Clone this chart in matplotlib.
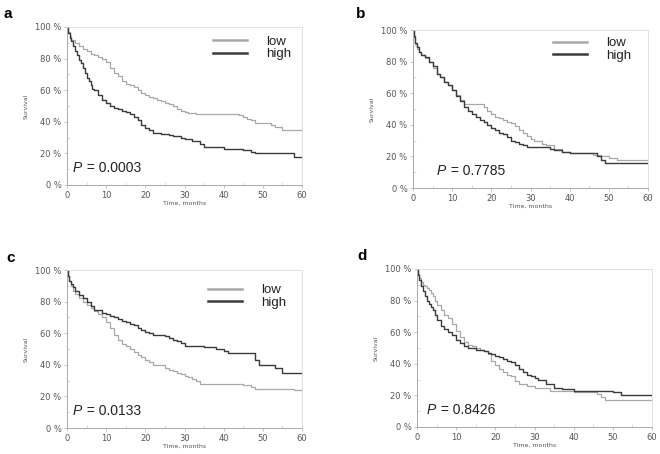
import matplotlib
matplotlib.use("Agg")
import matplotlib.pyplot as plt
from matplotlib.ticker import MultipleLocator, FuncFormatter

# ---- data (time in months, survival in %) ----
a_low_t = [0, 0.3, 0.7, 1, 2, 3, 4, 5, 6, 7, 8, 9, 10, 11, 12, 13, 14, 15, 16, 17, 18, 19, 20, 21, 22, 23, 24, 25, 26, 27, 28, 29, 30, 31, 33, 36, 40, 43, 44, 45, 46, 47, 48, 50, 52, 53, 55, 60]
a_low_s = [100, 97, 94, 92, 90, 88, 86, 85, 83, 82, 81, 80, 78, 74, 71, 69, 66, 64, 63, 62, 60, 58, 57, 56, 55, 54, 53, 52, 51, 50, 48, 47, 46, 45.5, 45, 45, 45, 45, 44, 43, 42, 41, 39, 39, 38, 37, 34.5, 34.5]
a_high_t = [0, 0.3, 0.7, 1, 1.5, 2, 2.5, 3, 3.5, 4, 4.5, 5, 5.5, 6, 6.5, 7, 8, 9, 10, 11, 12, 13, 14, 15, 16, 17, 18, 19, 20, 21, 22, 24, 26, 27, 29, 30, 32, 34, 35, 38, 40, 45, 47, 48, 55, 58, 60]
a_high_s = [100, 96, 93, 91, 88, 85, 82, 79, 77, 74, 71, 68, 66, 63, 61, 60, 57, 54, 52, 50, 49, 48, 47, 46, 45, 43, 41, 38, 36, 35, 33, 32, 31.5, 31, 30, 29, 28, 26, 24, 24, 23, 22, 21, 20, 20, 18, 18]

b_low_t = [0, 0.3, 0.6, 1, 1.5, 2, 3, 4, 5, 6, 7, 8, 9, 10, 11, 12, 13, 17, 18, 19, 20, 21, 22, 23, 24, 25, 26, 27, 28, 29, 30, 31, 33, 34, 36, 38, 40, 44, 46, 47, 48, 50, 52, 60]
b_low_s = [100, 95, 91, 88, 86, 84, 82, 80, 76, 72, 70, 67, 65, 62, 59, 56, 53, 53, 51, 49, 47, 45, 44, 43, 42, 41, 39, 37, 35, 33, 31, 30, 28, 27, 25, 23, 22, 22, 21, 21, 20, 19, 18, 18]
b_high_t = [0, 0.3, 0.6, 1, 1.5, 2, 3, 4, 5, 6, 7, 8, 9, 10, 11, 12, 13, 14, 15, 16, 17, 18, 19, 20, 21, 22, 23, 24, 25, 26, 27, 28, 29, 30, 35, 36, 38, 40, 46, 47, 48, 49, 60]
b_high_s = [100, 96, 92, 89, 86, 84, 83, 80, 77, 72, 70, 67, 65, 62, 58, 55, 51, 49, 47, 45, 43, 42, 40, 38, 37, 35, 34, 32, 30, 29, 28, 27, 26, 26, 25, 24, 23, 22, 22, 20, 18, 16, 16]

c_low_t = [0, 0.3, 0.6, 1, 1.5, 2, 3, 4, 5, 6, 7, 8, 9, 10, 11, 12, 13, 14, 15, 16, 17, 18, 19, 20, 21, 22, 24, 25, 26, 27, 28, 29, 30, 31, 32, 33, 34, 40, 44, 45, 46, 47, 48, 55, 58, 60]
c_low_s = [100, 96, 93, 90, 87, 85, 82, 80, 78, 76, 74, 72, 70, 67, 63, 59, 56, 53, 52, 50, 48, 46, 45, 43, 42, 40, 40, 38, 37, 36, 35, 34, 33, 32, 31, 30, 28, 28, 28, 27, 27, 26, 25, 25, 24, 23.5]
c_high_t = [0, 0.3, 0.6, 1, 1.5, 2, 3, 4, 5, 6, 7, 8, 9, 10, 11, 12, 13, 14, 15, 16, 17, 18, 19, 20, 21, 22, 25, 26, 27, 28, 29, 30, 34, 35, 38, 40, 41, 47, 48, 49, 51, 53, 55, 60]
c_high_s = [100, 96, 93, 91, 89, 87, 84, 82, 80, 77, 75, 75, 73, 72, 71, 70, 69, 68, 67, 66, 65, 63, 62, 61, 60, 59, 58, 57, 56, 55, 54, 52, 52, 51, 50, 49, 47.5, 47.5, 43, 40, 40, 38, 35, 35]

d_low_t = [0, 0.3, 0.6, 1, 1.5, 2, 2.5, 3, 3.5, 4, 4.5, 5, 6, 7, 8, 9, 10, 11, 12, 13, 14, 15, 16, 17, 18, 19, 20, 21, 22, 23, 24, 25, 26, 28, 30, 34, 40, 46, 47, 48, 60]
d_low_s = [100, 97, 94, 92, 90, 89, 88, 87, 85, 83, 80, 77, 74, 71, 69, 65, 61, 57, 54, 52, 51, 50, 49, 48, 46, 42, 39, 37, 35, 33, 32, 29, 27, 26, 25, 23, 22, 21, 19, 17, 17]
d_high_t = [0, 0.3, 0.6, 1, 1.5, 2, 2.5, 3, 3.5, 4, 4.5, 5, 6, 7, 8, 9, 10, 11, 12, 13, 15, 17, 18, 19, 20, 21, 22, 23, 24, 25, 26, 27, 28, 29, 30, 31, 33, 35, 37, 40, 48, 50, 52, 60]
d_high_s = [100, 96, 93, 89, 86, 83, 80, 78, 76, 74, 71, 68, 64, 62, 60, 58, 55, 53, 51, 50, 49, 48, 47, 46, 45, 44, 43, 42, 41, 39, 37, 35, 33, 32, 31, 30, 27, 25, 24, 23, 23, 22, 20, 20]

p_values = ["0.0003", "0.7785", "0.0133", "0.8426"]
panel_letters = ["a", "b", "c", "d"]
series_labels = ["low", "high"]
x_ticks = [0, 10, 20, 30, 40, 50, 60]
y_ticks = [0, 20, 40, 60, 80, 100]

panels = [
    (a_low_t, a_low_s, a_high_t, a_high_s),
    (b_low_t, b_low_s, b_high_t, b_high_s),
    (c_low_t, c_low_s, c_high_t, c_high_s),
    (d_low_t, d_low_s, d_high_t, d_high_s),
]

W, H = 660, 454
fig = plt.figure(figsize=(W / 100, H / 100), dpi=100)

# axes boxes in pixels: (left, top, right, bottom)
boxes = [(67, 27, 302, 185), (413, 30, 648, 188), (67, 270, 302, 428), (417, 269, 652, 427)]
letter_pos = [(4, 14), (356, 14), (6, 258), (357, 256)]
legend_anchor = [(0.62, 0.945), (0.596, 0.955), (0.60, 0.91), None]
p_xpos = [0.025, 0.1, 0.025, 0.04]

LOW_C = "#a8a8a8"
HIGH_C = "#3a3a3a"
TICK_C = "#555555"

for i, (lt, ls, ht, hs) in enumerate(panels):
    l, t, r, b = boxes[i]
    ax = fig.add_axes([l / W, 1 - b / H, (r - l) / W, (b - t) / H])
    ax.step(lt, ls, where="post", color=LOW_C, lw=0.9, label=series_labels[0])
    ax.step(ht, hs, where="post", color=HIGH_C, lw=1.0, label=series_labels[1])
    ax.set_xlim(0, 60)
    ax.set_ylim(0, 100)
    ax.set_xticks(x_ticks)
    ax.set_yticks(y_ticks)
    ax.xaxis.set_minor_locator(MultipleLocator(5))
    ax.yaxis.set_minor_locator(MultipleLocator(10))
    ax.yaxis.set_major_formatter(FuncFormatter(lambda v, p: f"{int(v)} %"))
    ax.tick_params(axis="both", which="major", labelsize=6, colors="#bbbbbb",
                   labelcolor=TICK_C, length=2.5, width=0.6, pad=1.5)
    ax.tick_params(axis="both", which="minor", colors="#cccccc", length=2, width=0.5,
                   direction="in")
    for side in ["top", "right"]:
        ax.spines[side].set_color("#dddddd")
        ax.spines[side].set_linewidth(0.6)
    for side in ["left", "bottom"]:
        ax.spines[side].set_color("#aaaaaa")
        ax.spines[side].set_linewidth(0.7)
    ax.set_ylabel("Survival", fontsize=4.5, color=TICK_C, labelpad=5)
    ax.set_xlabel("Time, months", fontsize=4.5, color=TICK_C, labelpad=1)
    xp = p_xpos[i]
    ax.text(xp, 0.11, "P", fontstyle="italic", fontsize=10, color="#222222",
            transform=ax.transAxes, va="center", ha="left", family="Liberation Sans")
    ax.text(xp + 0.045, 0.11, " = " + p_values[i], fontsize=10, color="#222222",
            transform=ax.transAxes, va="center", ha="left", family="Liberation Sans")
    if legend_anchor[i] is not None:
        leg = ax.legend(loc="upper left", bbox_to_anchor=legend_anchor[i], frameon=False,
                        handlelength=2.6, handletextpad=1.45, borderpad=0,
                        borderaxespad=0, labelspacing=0.0,
                        prop={"family": "Liberation Sans", "size": 9.5})
        for line in leg.get_lines():
            line.set_linewidth(1.8)
        for txt in leg.get_texts():
            txt.set_color("#222222")
    fig.text(letter_pos[i][0] / W, 1 - letter_pos[i][1] / H, panel_letters[i],
             fontsize=11, fontweight="bold", ha="left", va="center",
             family="Liberation Sans")

fig.savefig("out.png", dpi=100)
